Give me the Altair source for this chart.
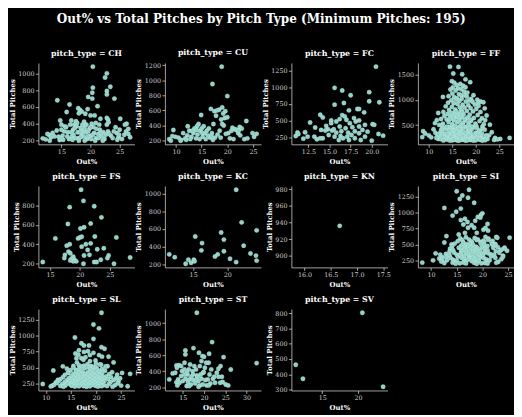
import altair as alt
import pandas as pd

TITLE = "Out% vs Total Pitches by Pitch Type (Minimum Pitches: 195)"
PITCH_TYPES = ["CH", "CU", "FC", "FF", "FS", "KC", "KN", "SI", "SL", "ST", "SV"]

CH = [(20.4,1080),(22.8,1000),(22.5,950),(23.4,840),(20.4,830),(22.8,790),(20.3,770),(22.8,750),
      (19.6,720),(20.3,700),(24.1,700),(14.3,680),(16.4,630),(21.2,610),(15.9,540),(17.9,585),
      (18.2,565),(19.5,575),(18.5,545),(18.0,525),(20.0,500),(20.7,500),(19.1,520),(22.8,470),
      (23.0,450),(21.7,460),(25.1,460),(14.8,440),(26.2,400),(16.7,440),(17.5,430),(18.9,425),
      (22.8,390),(23.1,420),(21.5,390),(20.9,410),(20.2,400),(19.3,390),
      (11.8,227),(12.3,215),(12.9,268),(13.5,292),(13.2,240),(14.5,247),(14.7,208),(15.2,260),
      (15.5,310),(15.6,370),(15.0,330),(16.1,300),(16.3,220),(16.8,250),(17.0,330),(17.2,390),
      (17.6,370),(17.8,300),(17.9,230),(18.3,350),(18.5,280),(18.7,320),(18.8,250),(19.0,380),
      (19.2,300),(19.4,220),(19.8,340),(19.9,260),(20.1,220),(20.5,360),(20.6,290),(20.9,230),
      (21.3,280),(21.6,330),(21.9,250),(22.2,300),(22.4,220),(22.6,270),(23.0,310),(23.5,260),
      (23.8,230),(24.3,360),(24.5,290),(24.8,240),(25.4,220),(25.8,270),(26.1,310),(26.5,280),
      (26.8,240),(25.9,390),(24.9,270),(15.8,360),(16.5,390),(17.3,350),(17.7,410),(18.2,300),
      (18.6,390),(19.0,340),(19.6,310),(20.0,360),(20.4,270),(21.0,340),(21.8,290),(17.1,270),
      (16.0,250),(15.3,210),(18.0,200),(19.5,250),(20.8,200),(17.4,230),(16.7,300),(15.0,390),
      (14.2,320),(13.8,250),(12.6,280),(24.0,310),(23.2,280),(25.0,330),(26.5,340),(24.6,210),
      (21.4,230),(22.1,200),(19.0,200),(18.3,240),(16.9,210),(14.9,225),(13.0,200)]

CU = [(18.9,1180),(17.1,950),(20.0,790),(16.8,620),(18.4,610),(19.0,640),(17.5,590),(19.6,590),
      (18.0,600),(19.2,560),(17.8,530),(19.5,500),(20.0,510),(18.8,480),(17.3,420),(14.9,540),
      (14.4,420),(14.1,390),(12.3,390),(9.5,340),(23.7,460),(22.4,380),(22.8,360),(21.0,370),
      (21.5,350),(19.3,400),(19.0,420),(20.2,300),(18.5,330),(18.1,280),(17.6,240),(17.0,300),
      (16.4,360),(16.0,330),(15.6,300),(15.2,250),(14.7,330),(14.2,280),(13.9,230),(13.4,300),
      (13.0,250),(12.6,330),(12.2,270),(11.8,230),(11.4,300),(11.0,210),(10.5,240),(9.9,250),
      (9.3,260),(8.7,220),(9.0,200),(10.9,200),(12.8,220),(13.6,360),(14.0,340),(15.0,360),
      (15.8,220),(16.6,240),(17.2,210),(18.7,240),(19.7,290),(20.5,230),(21.2,220),(22.1,300),
      (22.5,270),(23.3,220),(23.9,230),(25.2,250),(25.7,290),(24.9,300),(16.2,270),(13.2,330),
      (15.4,390),(14.6,220),(20.8,330),(21.8,340),(22.2,330),(12.0,210),(15.1,300),(16.9,260)]

FC = [(20.5,1310),(15.6,992),(16.5,952),(17.5,881),(19.7,927),(19.7,790),(20.9,775),(15.6,740),
      (16.7,765),(18.3,674),(18.5,674),(17.3,654),(19.1,624),(13.9,588),(14.2,548),(16.5,583),
      (16.8,563),(16.2,523),(17.0,513),(17.9,538),(18.1,487),(15.2,503),(15.2,462),(12.7,472),
      (13.3,396),(15.8,487),(19.2,437),(20.1,447),(20.3,437),(18.5,412),(17.7,402),(14.6,422),
      (14.0,361),(14.8,371),(15.3,351),(16.2,412),(16.9,386),(11.2,321),(11.0,270),(11.3,300),
      (12.1,326),(11.9,230),(12.4,260),(13.2,260),(13.5,220),(14.2,235),(14.9,285),(15.6,260),
      (15.8,320),(16.1,210),(16.3,270),(16.6,235),(17.1,260),(17.3,210),(17.6,285),(18.0,235),
      (18.5,310),(18.7,210),(19.2,260),(19.5,335),(20.0,200),(20.8,300),(21.35,275),(15.5,371),
      (16.4,341),(17.2,320),(18.0,341),(18.9,361),(17.4,462),(18.5,503),(13.9,235),(14.5,351)]

FF = [(14.5,1650),(16.3,1645),(15.2,1515),(17.1,1500),(17.8,1400),(18.8,1345),(14.9,1365),(15.4,1335),
      (16.7,1310),(15.9,1290),(17.3,1275),(17.8,1245),(15.1,1240),(16.2,1225),(16.9,1205),(14.6,1200),
      (15.7,1180),(17.5,1160),(18.2,1140),(15.0,1120),(16.4,1110),(16.9,1090),(17.7,1085),(19.5,1090),
      (14.2,1070),(13.0,1055),(15.4,1050),(16.0,1030),(17.0,1020),(18.1,1060),(19.0,1015),(20.3,1000),
      (18.6,985),(15.8,1005),(14.8,990),(16.5,975),(17.9,965),(19.3,960),(21.0,965),(21.6,950),
      (20.5,935),(19.8,905),(20.6,880),(21.9,830),(14.1,940),(15.3,930),(16.1,915),(17.2,900),
      (18.4,890),(13.6,870),(14.9,860),(16.6,850),(17.6,845),(18.9,835),(20.1,820),(15.6,810),
      (14.3,800),(13.1,760),(16.9,790),(18.1,780),(19.4,770),(21.0,760),(12.0,740),(14.0,720),
      (15.1,735),(16.3,725),(17.4,715),(18.7,705),(20.4,700),(22.3,690),(13.3,680),(14.6,670),
      (15.8,660),(17.0,655),(18.2,650),(19.6,640),(21.3,635),(12.6,620),(11.7,600),(13.8,610),
      (15.3,600),(16.5,595),(17.8,590),(19.0,585),(20.8,580),(22.0,600),(14.2,560),(16.0,555),
      (17.3,545),(18.5,540),(19.9,530),(21.7,520),(13.0,530),(15.0,520),(16.9,510),(12.2,505),
      (23.0,510),(11.3,540),(15.5,700),(16.1,680),(16.8,690),(17.1,760),(15.9,770),(14.8,740),
      (16.4,640),(17.6,620),(15.2,640),(16.3,590),(18.8,610),(14.5,620),
      (8.6,265),(8.8,380),(9.2,335),(10.0,300),(10.5,260),(11.0,420),(11.4,350),(11.8,280),
      (12.0,230),(24.1,250),(25.2,230),(27.2,250),(23.4,360),(22.8,300),(23.9,210),(24.6,220),
      (22.5,230),
      (12.8,478),(14.3,463),(15.0,497),(16.2,455),(16.7,482),(17.9,466),(18.4,499),(19.7,458),(20.1,488),(21.4,471),
      (13.1,440),(14.8,428),(15.4,452),(16.6,419),(17.0,445),(18.3,433),(18.8,414),(20.2,447),(21.5,426),
      (12.6,405),(13.7,418),(15.2,392),(15.7,411),(16.9,399),(17.3,423),(18.6,388),(19.1,408),(20.8,397),(21.9,412),
      (12.8,377),(14.5,364),(15.1,382),(16.4,356),(16.8,373),(18.1,361),(18.6,379),(20.0,352),(20.7,370),
      (12.4,345),(13.4,332),(15.0,350),(15.5,323),(16.7,341),(17.1,334),(18.4,347),(18.9,326),(20.4,339),(21.3,330),
      (12.7,314),(14.3,303),(14.9,318),(16.2,296),(16.6,311),(17.8,300),(18.3,316),(19.7,292),(20.4,308),(22.2,299),
      (12.3,285),(13.6,272),(14.3,289),(15.6,265),(16.1,281),(17.3,270),(17.8,286),(19.1,262),(19.6,278),(21.2,268),(22.2,283),
      (13.3,255),(13.8,243),(15.1,258),(15.6,238),(16.8,251),(17.2,241),(18.5,256),(19.0,235),(20.5,249),(21.2,240),
      (12.5,226),(13.9,215),(14.4,229),(15.7,210),(16.0,224),(17.2,213),(17.6,227),(18.9,207),(19.4,221),(20.9,212),(21.6,225),
      (13.1,200),(14.5,198),(15.0,203),(16.2,196),(16.6,201),(17.8,197),(18.2,204),(19.5,199),(20.0,202),(21.4,197),(22.0,205),
      (13.8,470),(15.6,478),(17.3,488),(19.1,476),(14.4,395),(16.5,430),(18.6,440),(17.8,345),(15.9,368),
      (19.6,320),(14.7,275),(16.7,262),(18.6,300),(13.9,330),(20.8,230),(15.3,220),(17.2,290),(12.0,320),(11.6,250)]

FS = [(13.8,217),(15.9,461),(18.3,783),(18.0,610),(20.2,963),(20.6,848),(22.4,793),(20.7,576),
      (21.8,614),(23.6,678),(26.1,471),(28.4,264),(17.8,386),(18.3,400),(17.5,291),(17.4,258),
      (18.1,325),(18.4,308),(18.9,271),(19.1,241),(19.4,224),(18.6,251),(19.7,461),(20.0,471),
      (20.3,478),(20.3,376),(21.0,400),(21.3,342),(20.7,285),(20.6,200),(21.8,410),(21.6,291),
      (22.5,481),(22.4,217),(22.8,217),(22.9,349),(23.5,241),(24.0,359),(24.6,258),(24.8,285),
      (25.7,200),(18.9,224),(20.1,563),(18.4,234)]

KC = [(11.5,313),(12.3,281),(13.9,207),(14.3,253),(14.7,218),(15.1,253),(15.3,515),(15.2,235),
      (16.2,358),(16.3,440),(18.2,288),(18.6,313),(19.1,560),(19.5,480),(19.5,348),(20.4,263),
      (21.3,1045),(21.3,225),(22.1,675),(22.4,411),(23.4,323),(24.2,299),(24.3,242),(24.3,585)]

KN = [(16.67,936)]

SI = [(8.3,215),(10.4,250),(10.9,360),(11.8,340),(11.6,280),(12.2,300),(13.0,630),(14.0,500),
      (25.3,605),(24.0,325),(23.7,270),(24.8,400),
      (12.6,1070),(12.6,530),(14.2,950),(14.9,1010),(15.0,1330),(15.6,1210),(16.1,1265),(17.2,1230),
      (17.4,1355),(15.8,1060),(18.4,1150),(20.0,985),(19.7,960),(19.1,930),(18.6,870),(19.6,920),
      (16.6,900),(17.1,850),(15.8,880),(17.9,800),(16.3,810),(21.0,820),(17.2,760),(18.4,760),
      (15.4,655),(16.6,680),(18.9,680),(20.2,730),(21.1,715),(20.6,757),(24.3,450),(23.5,410),
      (22.7,615),(22.0,555),(22.5,505),
      (15.7,592),(16.8,611),(18.5,600),(19.1,578),(20.6,618),(21.2,589),(22.9,603),(17.4,575),
      (15.2,551),(16.1,566),(17.9,545),(18.9,569),(19.6,540),(21.1,572),(21.8,534),(20.2,556),
      (14.6,512),(16.3,528),(16.9,503),(18.0,522),(19.7,511),(20.3,533),(21.9,499),(17.6,508),
      (14.1,472),(15.9,485),(16.5,463),(18.2,490),(18.8,462),(20.4,491),(21.0,474),(22.6,484),(23.0,458),(17.3,477),
      (13.7,431),(15.4,447),(15.9,418),(17.7,450),(18.2,424),(19.9,452),(20.5,428),(22.1,446),(24.3,433),(16.8,437),(19.1,440),
      (13.6,386),(14.3,409),(15.9,392),(16.5,413),(18.2,381),(18.8,405),(20.5,385),(21.0,410),(22.6,395),(23.7,417),(17.4,398),(19.6,396),
      (12.9,352),(14.5,371),(15.0,340),(16.7,364),(17.2,350),(18.9,379),(19.4,337),(21.1,362),(21.6,347),(23.3,369),(15.8,358),(20.2,355),
      (13.0,306),(13.6,330),(15.2,310),(15.7,332),(17.4,302),(17.9,338),(19.6,308),(20.1,325),(21.7,314),(22.3,338),(24.0,306),(16.5,318),(18.7,320),
      (12.2,271),(13.8,289),(14.3,260),(15.9,291),(16.4,268),(18.1,293),(18.6,258),(20.3,283),(20.8,266),(22.5,290),(17.3,280),(19.4,275),
      (12.0,233),(13.1,251),(14.6,228),(15.0,247),(16.6,231),(17.1,257),(18.8,224),(19.2,244),(20.9,235),(21.4,251),(23.1,229),(17.9,239),
      (12.6,208),(14.2,214),(14.8,199),(16.3,216),(16.8,203),(18.4,212),(18.9,198),(20.5,209),(21.0,202),(22.7,214),(15.6,205),(19.8,204)]

SL = [(9.4,240),(11.5,452),(11.3,215),(12.0,265),(12.4,305),(13.4,518),(14.2,482),(15.8,972),
      (15.9,720),(17.1,880),(17.6,845),(18.6,845),(18.4,755),(19.5,1175),(20.6,1115),(21.1,1360),
      (19.5,950),(21.1,820),(21.7,795),(20.6,695),(21.2,670),(22.5,670),(23.5,580),(19.5,730),
      (18.8,695),(16.6,770),(16.1,645),(17.1,645),(17.6,745),(16.2,580),(15.5,525),(14.5,415),
      (26.8,400),(25.2,415),(24.8,330),(24.5,275),(26.3,205),(25.0,215),
      (17.5,620),(18.8,600),(19.9,610),(16.5,700),(17.9,660),(20.0,560),(21.0,545),(22.3,520),
      (16.6,536),(18.3,552),(19.0,523),(20.8,547),(17.6,530),
      (15.5,497),(17.2,515),(17.8,487),(19.5,507),(20.1,492),(21.9,516),(18.6,500),
      (14.9,456),(16.6,474),(17.1,447),(18.9,471),(19.4,452),(21.2,476),(21.8,448),(16.0,462),(20.3,465),
      (14.4,415),(16.1,433),(16.6,405),(18.4,427),(18.9,418),(20.7,436),(21.2,408),(23.2,425),(17.5,420),(19.7,412),
      (13.8,384),(15.5,401),(16.1,374),(17.8,393),(18.4,386),(20.2,403),(20.7,376),(22.6,395),(24.2,385),(17.0,388),(19.3,380),
      (13.4,346),(15.1,364),(15.6,336),(17.4,356),(18.0,348),(19.7,366),(20.3,338),(22.0,358),(23.0,349),(16.4,352),(18.8,342),(21.3,350),
      (12.9,315),(14.6,333),(15.2,305),(16.9,325),(17.5,317),(19.3,335),(19.8,306),(21.6,327),(22.4,318),(24.0,330),(16.2,318),(18.4,322),(20.7,316),
      (12.5,286),(14.2,302),(14.7,276),(16.5,295),(17.1,288),(18.8,305),(19.4,277),(21.1,297),(21.7,289),(23.5,301),(15.8,285),(18.0,280),(20.3,292),
      (12.2,255),(13.8,273),(14.4,246),(16.1,266),(16.6,258),(18.4,275),(18.9,247),(20.7,268),(21.3,259),(22.9,272),(24.3,252),(15.4,260),(17.6,262),(19.8,258),
      (11.6,226),(13.3,243),(13.9,217),(15.6,237),(16.2,229),(17.9,245),(18.5,218),(20.3,238),(20.8,230),(22.6,244),(23.8,223),(15.0,225),(17.3,232),(19.4,228),(21.6,222),
      (11.0,203),(12.9,211),(13.5,199),(15.2,213),(15.8,201),(17.5,209),(18.1,197),(19.9,212),(20.4,200),(22.2,210),(23.3,199),(16.6,206),(18.8,204),(21.1,207)]

ST = [(18.3,1130),(21.9,763),(17.5,688),(15.6,659),(15.6,609),(18.8,630),(19.6,588),(20.0,580),
      (21.2,617),(24.6,575),(21.1,505),(32.4,500),(26.3,420),(11.8,296),(12.6,371),(13.2,380),
      (13.5,471),(14.1,475),(13.6,442),(14.6,463),(15.4,505),(14.8,400),(13.9,296),(13.5,262),
      (14.2,254),(13.7,221),(15.0,275),(15.6,304),(16.1,358),(16.5,296),(16.9,233),(16.4,421),
      (15.9,213),(17.3,400),(17.7,463),(18.1,421),(18.3,346),(18.7,275),(19.0,221),(19.4,304),
      (19.8,380),(20.2,442),(20.5,505),(20.9,296),(21.3,358),(21.7,421),(22.1,304),(22.6,254),
      (23.0,380),(23.4,430),(23.9,463),(24.2,329),(24.4,263),(25.1,233),(25.7,221),(17.4,358),
      (17.0,329),(16.2,263),(17.9,246),(18.5,329),(19.2,358),(19.7,233),(20.6,221),(21.5,246),
      (22.4,329),(19.0,463),(19.4,525),(19.9,388),(16.5,213),(16.0,380),(15.4,421),(17.4,288),
      (18.1,296),(14.6,338),(15.4,358),(18.7,204),(20.3,288),(21.1,221),(23.4,329),(23.8,254),
      (16.7,483)]

SV = [(11.3,463),(12.3,371),(20.6,802),(23.5,319)]

DATA = {"CH": CH, "CU": CU, "FC": FC, "FF": FF, "FS": FS, "KC": KC, "KN": KN,
        "SI": SI, "SL": SL, "ST": ST, "SV": SV}

X_TICKS = {"CH": [15, 20, 25], "CU": [10, 15, 20, 25], "FC": [12.5, 15.0, 17.5, 20.0],
           "FF": [10, 15, 20, 25], "FS": [15, 20, 25], "KC": [15, 20],
           "KN": [16.0, 16.5, 17.0, 17.5], "SI": [10, 15, 20, 25], "SL": [10, 15, 20, 25],
           "ST": [15, 20, 25, 30], "SV": [15, 20]}
Y_TICKS = {"CH": [200, 400, 600, 800, 1000], "CU": [200, 400, 600, 800, 1000, 1200],
           "FC": [250, 500, 750, 1000, 1250], "FF": [500, 1000, 1500],
           "FS": [200, 400, 600, 800], "KC": [200, 400, 600, 800, 1000],
           "KN": [900, 920, 940, 960, 980], "SI": [250, 500, 750, 1000, 1250],
           "SL": [250, 500, 750, 1000, 1250], "ST": [200, 400, 600, 800, 1000],
           "SV": [300, 400, 500, 600, 700, 800]}
X_FMT = {"FC": ".1f", "KN": ".1f"}
KN_X_DOMAIN = [15.75, 17.58]
KN_Y_DOMAIN = [886, 984]

FONT = "DejaVu Serif"
POINT = "#8dd3c7"


def padded(vals):
    lo, hi = min(vals), max(vals)
    m = (hi - lo) * 0.05
    return [lo - m, hi + m]


panels = []
for pt in PITCH_TYPES:
    pts = DATA[pt]
    df = pd.DataFrame({"Out%": [p[0] for p in pts], "Total Pitches": [p[1] for p in pts]})
    if pt == "KN":
        xd, yd = KN_X_DOMAIN, KN_Y_DOMAIN
    else:
        xd, yd = padded(df["Out%"].tolist()), padded(df["Total Pitches"].tolist())
    c = alt.Chart(df).mark_circle(
        size=20, color=POINT, opacity=1, stroke="#e8f6f3", strokeWidth=0.3
    ).encode(
        x=alt.X("Out%:Q", title="Out%",
                scale=alt.Scale(domain=xd, nice=False, zero=False),
                axis=alt.Axis(values=X_TICKS[pt], format=X_FMT.get(pt, "d"))),
        y=alt.Y("Total Pitches:Q", title="Total Pitches",
                scale=alt.Scale(domain=yd, nice=False, zero=False),
                axis=alt.Axis(values=Y_TICKS[pt], format="d")),
    ).properties(width=98, height=83, title=f"pitch_type = {pt}")
    panels.append(c)

chart = alt.concat(*panels, columns=4, spacing={"row": 42.5, "column": 31}, bounds="flush").properties(
    title=alt.TitleParams(TITLE, fontSize=12.3, font=FONT, fontWeight="bold", color="white",
                          anchor="middle", offset=25),
    background="black",
    padding={"left": 0, "top": 0, "right": 0, "bottom": 0},
).configure_view(stroke=None).configure_axis(
    grid=False, domainColor="#cccccc", tickColor="#cccccc", labelColor="#d0d0d0",
    labelFont=FONT, labelFontSize=6.5, titleFont=FONT, titleFontSize=7, titleFontWeight="bold",
    titleColor="white", tickSize=3, labelPadding=1.5, titlePadding=2.5, domainWidth=0.8, tickWidth=0.8,
).configure_title(
    font=FONT, fontSize=8, fontWeight="bold", color="white", offset=5
)

chart.save("out.html", embed_options={"renderer": "svg", "actions": False})
